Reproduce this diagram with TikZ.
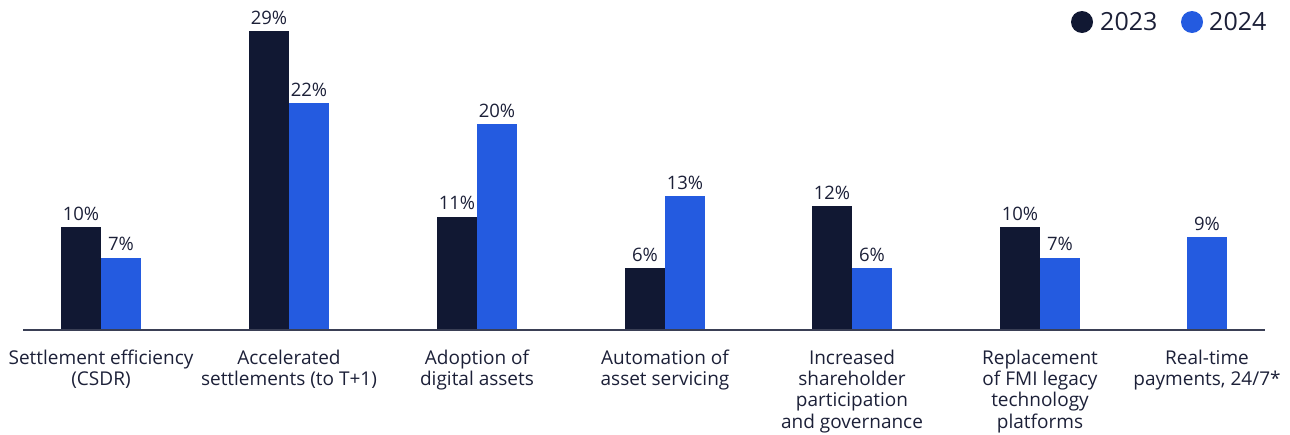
\documentclass[tikz,border=0pt]{standalone}
\usepackage{fontspec}
\setmainfont{Open Sans}
\definecolor{navy}{HTML}{111833}
\definecolor{bblue}{HTML}{245BE0}
\definecolor{txt}{HTML}{1C2038}
\definecolor{axis}{HTML}{3A3F55}
\begin{document}
\begin{tikzpicture}[x=1pt,y=-1pt,
  bar23/.style={fill=navy,draw=none},
  bar24/.style={fill=bblue,draw=none},
  val/.style={font=\fontsize{18.5}{20}\selectfont,text=txt,anchor=base,inner sep=0pt},
  cat/.style={font=\fontsize{19}{21.3}\selectfont,text=txt,align=center,anchor=north,inner sep=0pt},
  leg/.style={font=\fontsize{25}{28}\selectfont,text=txt,anchor=west,inner sep=0pt}]
\useasboundingbox (0,0) rectangle (1290,434);
\def\base{330}
\def\sc{10.3}
% groups: center, v2023, v2024, name
\foreach \c/\a/\b/\n in {101/10/7/1,289/29/22/2,477/11/20/3,665/6/13/4,852/12/6/5,1040/10/7/6}{
  \fill[bar23] (\c-40,\base) rectangle (\c,\base-\a*\sc);
  \fill[bar24] (\c,\base) rectangle (\c+40,\base-\b*\sc);
  \node[val] (va\n) at (\c-20,\base-\a*\sc-7) {\a\%};
  \node[val] (vb\n) at (\c+20,\base-\b*\sc-7) {\b\%};
}
\fill[bar24] (1187,\base) rectangle (1227,\base-9*\sc);
\node[val] (vb7) at (1207,\base-9*\sc-7) {9\%};
\coordinate (axL) at (23,\base);
\coordinate (axR) at (1265,\base);
\draw[axis,line width=1.5pt] (axL) -- (axR);
\node[cat] (c1) at (101,349.5) {Settlement efficiency\\(CSDR)};
\node[cat] (c2) at (289,349.5) {Accelerated\\settlements (to T+1)};
\node[cat] (c3) at (477,349.5) {Adoption of\\digital assets};
\node[cat] (c4) at (665,349.5) {Automation of\\asset servicing};
\node[cat] (c5) at (852,349.5) {Increased\\shareholder\\participation\\and governance};
\node[cat] (c6) at (1040,349.5) {Replacement\\of FMI legacy\\technology\\platforms};
\node[cat] (c7) at (1207,349.5) {Real-time\\payments, 24/7*};
\fill[navy] (1082,22) circle (11);
\node[leg] (l1) at (1100,22) {2023};
\fill[bblue] (1192,22) circle (11);
\node[leg] (l2) at (1209,22) {2024};
\end{tikzpicture}
\end{document}
